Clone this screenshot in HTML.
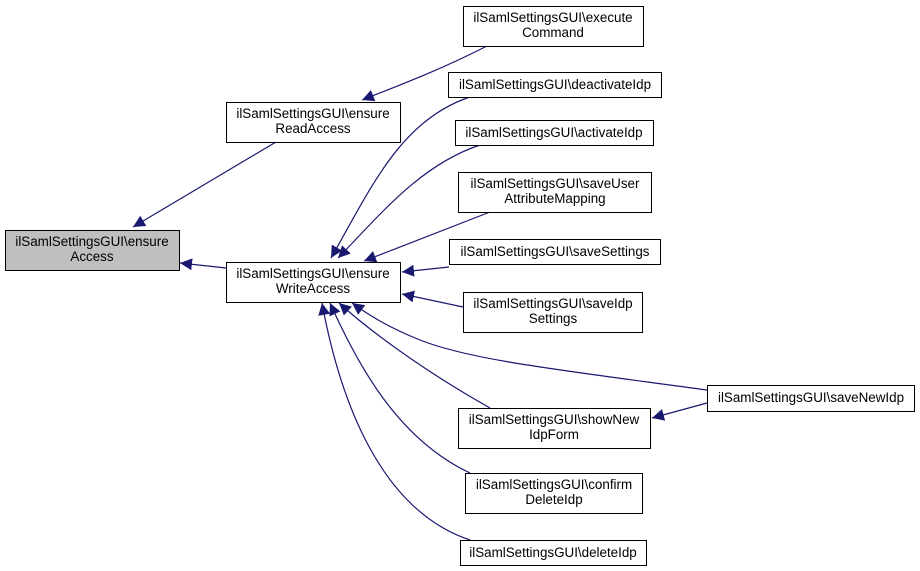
<!DOCTYPE html>
<html><head><meta charset="utf-8"><style>
html,body{margin:0;padding:0;background:#fff}
svg{display:block}
text{font-family:"Liberation Sans",Arial,sans-serif;font-size:13.4px;fill:#000}
</style></head><body>
<svg width="920" height="571" viewBox="0 0 920 571" xmlns="http://www.w3.org/2000/svg">
<defs>
<marker id="a" viewBox="0 0 10 10" refX="10" refY="5" markerWidth="12" markerHeight="12" markerUnits="userSpaceOnUse" orient="auto">
<path d="M0,0 L10,5 L0,10 z" fill="#191970"/>
</marker>
</defs>
<g fill="none" stroke="#191970" stroke-width="1.2" marker-end="url(#a)">
<path d="M276,142 L133,227"/>
<path d="M226,268 L180,263"/>
<path d="M487,46 C440,70 400,85 362,100"/>
<path d="M470,97 C400,120 370,190 331,258"/>
<path d="M480,145 C420,165 380,215 338,258"/>
<path d="M490,212 L364,261"/>
<path d="M449,267 L402,272"/>
<path d="M463,307 L402,294"/>
<path d="M707,390 C560,370 470,360 420,340 C390,328 370,316 352,303"/>
<path d="M707,403 L652,418"/>
<path d="M490,408 C440,380 380,340 339,303"/>
<path d="M470,473 C400,440 360,370 330,303"/>
<path d="M470,540 C380,510 340,400 322,303"/>
</g>
<g stroke="#000" stroke-width="1">
<rect x="5.5" y="230.5" width="174" height="40" fill="#bfbfbf"/>
<rect x="226.5" y="102.5" width="174" height="40" fill="#fff"/>
<rect x="226.5" y="262.5" width="174" height="40" fill="#fff"/>
<rect x="463.5" y="6.5" width="180" height="40" fill="#fff"/>
<rect x="448.5" y="72.5" width="213" height="25" fill="#fff"/>
<rect x="455.5" y="120.5" width="198" height="25" fill="#fff"/>
<rect x="458.5" y="172.5" width="193" height="40" fill="#fff"/>
<rect x="449.5" y="239.5" width="211" height="25" fill="#fff"/>
<rect x="463.5" y="292.5" width="179" height="40" fill="#fff"/>
<rect x="707.5" y="385.5" width="207" height="26" fill="#fff"/>
<rect x="458.5" y="408.5" width="192" height="40" fill="#fff"/>
<rect x="465.5" y="473.5" width="177" height="40" fill="#fff"/>
<rect x="460.5" y="540.5" width="186" height="25" fill="#fff"/>
</g>
<g text-anchor="middle">
<text x="92" y="246">ilSamlSettingsGUI\ensure</text><text x="92" y="261">Access</text>
<text x="313" y="118">ilSamlSettingsGUI\ensure</text><text x="313" y="133">ReadAccess</text>
<text x="313" y="278">ilSamlSettingsGUI\ensure</text><text x="313" y="293">WriteAccess</text>
<text x="553" y="22">ilSamlSettingsGUI\execute</text><text x="553" y="37">Command</text>
<text x="555" y="89">ilSamlSettingsGUI\deactivateIdp</text>
<text x="554" y="137">ilSamlSettingsGUI\activateIdp</text>
<text x="555" y="188">ilSamlSettingsGUI\saveUser</text><text x="555" y="203">AttributeMapping</text>
<text x="555" y="256">ilSamlSettingsGUI\saveSettings</text>
<text x="553" y="308">ilSamlSettingsGUI\saveIdp</text><text x="553" y="323">Settings</text>
<text x="811" y="402">ilSamlSettingsGUI\saveNewIdp</text>
<text x="554" y="424">ilSamlSettingsGUI\showNew</text><text x="554" y="439">IdpForm</text>
<text x="554" y="489">ilSamlSettingsGUI\confirm</text><text x="554" y="504">DeleteIdp</text>
<text x="553" y="557">ilSamlSettingsGUI\deleteIdp</text>
</g>
</svg>
</body></html>
